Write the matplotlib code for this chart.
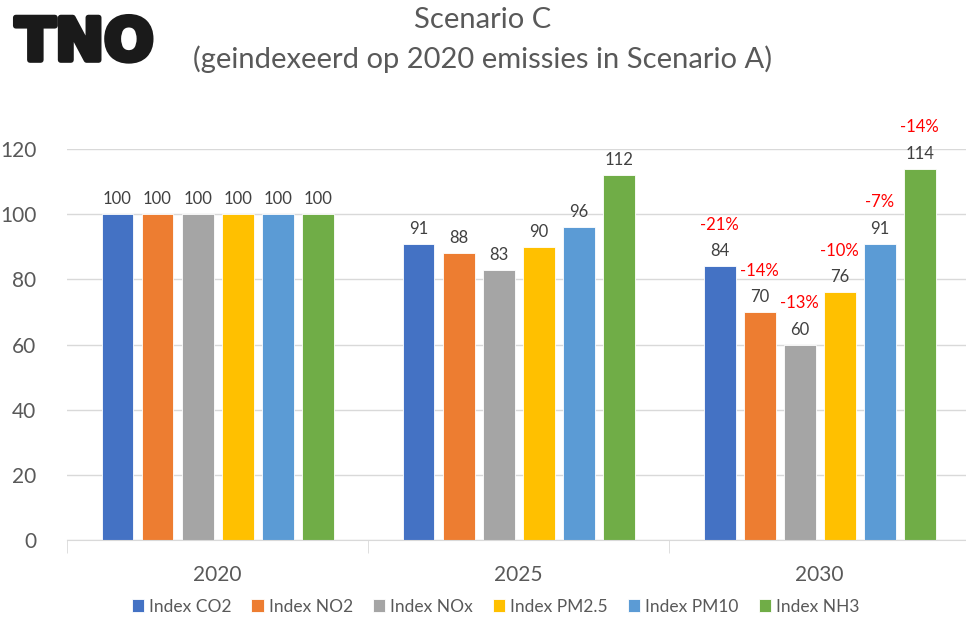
import matplotlib.pyplot as plt
import matplotlib.patheffects as pe
import numpy as np

# data
years = ['2020', '2025', '2030']
series = ['Index CO2', 'Index NO2', 'Index NOx', 'Index PM2.5', 'Index PM10', 'Index NH3']
values = [
    [100, 91, 84],
    [100, 88, 70],
    [100, 83, 60],
    [100, 90, 76],
    [100, 96, 91],
    [100, 112, 114],
]
changes_2030 = ['-21%', '-14%', '-13%', '-10%', '-7%', '-14%']
colors = ['#4472C4', '#ED7D31', '#A5A5A5', '#FFC000', '#5B9BD5', '#70AD47']

plt.rcParams['font.family'] = ['Lato', 'DejaVu Sans']
txt = '#595959'

fig = plt.figure(figsize=(9.66, 6.19), dpi=100)
ax = fig.add_axes([0.0694, 0.1276, 0.935, 0.6316])

x = np.arange(len(years))
pitch = 0.133
width = 0.106
for i, (name, vals) in enumerate(zip(series, values)):
    pos = x + (i - 2.5) * pitch
    ax.bar(pos, vals, width, color=colors[i], label=name,
           edgecolor='white', linewidth=0.6, zorder=3)
    for xp, v in zip(pos, vals):
        ax.annotate(f'{v:.0f}', (xp, v), xytext=(0, 5), textcoords='offset points',
                    ha='center', va='bottom', fontsize=12, color='#404040',
                    annotation_clip=False)
    # red change label above the 2030 value label
    ax.annotate(changes_2030[i], (pos[-1], vals[-1]), xytext=(0, 24),
                textcoords='offset points', ha='center', va='bottom',
                fontsize=12, color='#FF0000', annotation_clip=False)

ax.set_xlim(-0.5, 2.5)
ax.set_ylim(0, 120)
ax.set_yticks(range(0, 121, 20))
ax.set_xticks(x)
ax.set_xticklabels(years)
ax.set_xticks([-0.5, 0.5, 1.5, 2.5], minor=True)
ax.tick_params(axis='x', which='major', length=0, pad=18, labelsize=15, labelcolor=txt)
ax.tick_params(axis='x', which='minor', length=9, color='#d9d9d9')
ax.tick_params(axis='y', length=0, pad=22, labelsize=15, labelcolor=txt)
ax.grid(axis='y', color='#d9d9d9', linewidth=1, zorder=0)
for s in ['left', 'right', 'top']:
    ax.spines[s].set_visible(False)
ax.spines['bottom'].set_color('#d9d9d9')
ax.spines['bottom'].set_zorder(4)

fig.text(0.5, 0.968, 'Scenario C', ha='center', va='center', fontsize=21, color=txt)
fig.text(0.5, 0.905, '(geindexeerd op 2020 emissies in Scenario A)', ha='center',
         va='center', fontsize=21, color=txt)

# logo
fig.text(0.016, 0.903, 'TNO', ha='left', va='baseline', fontsize=42,
         fontweight='black', color='#1a1a1a', family='DejaVu Sans',
         path_effects=[pe.withStroke(linewidth=4, foreground='#1a1a1a')])

fig.legend(loc='center', bbox_to_anchor=(0.513, 0.02), ncol=6, frameon=False,
           fontsize=12.5, handlelength=0.7, handleheight=0.7, handletextpad=0.3,
           columnspacing=1.15, labelcolor=txt)

fig.savefig('out.png', dpi=100)
